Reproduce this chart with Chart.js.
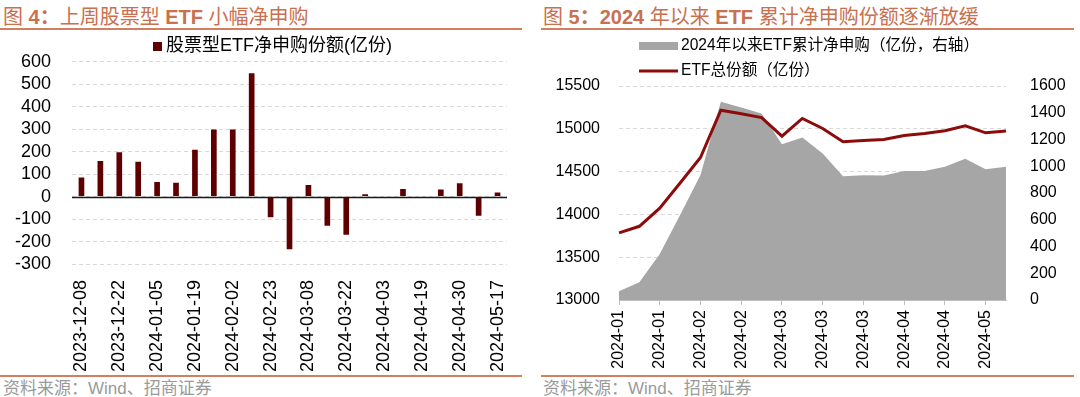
<!DOCTYPE html>
<html>
<head>
<meta charset="utf-8">
<script src="https://cdn.jsdelivr.net/npm/chart.js"></script>
<style>
  body { margin: 0; width: 1080px; height: 397px; background: #fff; position: relative; overflow: hidden;
         font-family: "Liberation Sans", Arial, "Noto Sans CJK SC", sans-serif; }
  .title { position: absolute; top: 4px; font-size: 20px; line-height: 26px; color: #c9704f; white-space: nowrap; }
  .title b { font-weight: bold; }
  .rule { position: absolute; height: 2px; background: #d27e61; }
  .source { position: absolute; top: 378px; font-size: 17px; line-height: 22px; color: #9a9a9a; white-space: nowrap; }
  canvas { position: absolute; }
</style>
</head>
<body>
<div class="title" style="left:3px">图 <b>4：</b>上周股票型 <b>ETF</b> 小幅净申购</div>
<div class="rule" style="left:0;width:522px;top:28px"></div>
<div class="title" style="left:543px">图 <b>5：2024</b> 年以来 <b>ETF</b> 累计净申购份额逐渐放缓</div>
<div class="rule" style="left:541px;width:533px;top:28px"></div>

<canvas id="leftChart" width="530" height="346" style="left:0;top:30px"></canvas>
<canvas id="rightChart" width="540" height="346" style="left:540px;top:30px"></canvas>

<div class="rule" style="left:0;width:522px;top:375px"></div>
<div class="rule" style="left:541px;width:533px;top:375px"></div>
<div class="source" style="left:3px">资料来源：Wind、招商证券</div>
<div class="source" style="left:543px">资料来源：Wind、招商证券</div>

<script>
// left: weekly net subscription of stock ETFs (亿份)
const weekDates = ['2023-12-08', '2023-12-15', '2023-12-22', '2023-12-29', '2024-01-05', '2024-01-12',
  '2024-01-19', '2024-01-26', '2024-02-02', '2024-02-08', '2024-02-23', '2024-03-01', '2024-03-08',
  '2024-03-15', '2024-03-22', '2024-03-29', '2024-04-03', '2024-04-12', '2024-04-19', '2024-04-26',
  '2024-04-30', '2024-05-10', '2024-05-17'];
const netSubscription = [85, 158, 197, 155, 65, 62, 208, 299, 299, 549, -92, -234, 52, -130, -170,
  10, -6, 34, -2, 32, 59, -85, 18];

// right: cumulative net subscription since 2024 (right axis) and total ETF shares
const monthTicks = ['2024-01', '2024-01', '2024-01', '2024-01', '2024-02', '2024-02', '2024-02',
  '2024-03', '2024-03', '2024-03', '2024-03', '2024-03', '2024-03', '2024-04', '2024-04', '2024-04',
  '2024-04', '2024-05', '2024-05', '2024-05'];
const cumSubscription = [65, 132, 343, 636, 935, 1483, 1440, 1395, 1165, 1215, 1095, 925, 932, 930,
  965, 965, 997, 1057, 977, 997];
const totalShares = [13785, 13861, 14072, 14367, 14664, 15217, 15175, 15131, 14914, 15121, 15004,
  14848, 14863, 14875, 14922, 14945, 14977, 15035, 14953, 14975];

const barColor = '#5e0000';
const lineColor = '#8c0c0c';
const areaColor = '#a6a6a6';
const gridColor = '#d9d9d9';

Chart.defaults.font.family = '"Liberation Sans", Arial, "Noto Sans CJK SC", sans-serif';
Chart.defaults.color = '#000';

const plain = v => String(v);

const zeroLine = {
  id: 'zeroLine',
  afterDatasetsDraw(chart) {
    const { ctx, chartArea, scales } = chart;
    const y = Math.round(scales.y.getPixelForValue(0)) + 0.5;
    ctx.save();
    ctx.strokeStyle = '#1a1a1a';
    ctx.lineWidth = 1.3;
    ctx.beginPath();
    ctx.moveTo(chartArea.left, y);
    ctx.lineTo(chartArea.right, y);
    ctx.stroke();
    ctx.restore();
  }
};

const leftLegend = {
  id: 'leftLegend',
  afterDraw(chart) {
    const ctx = chart.ctx;
    const ds = chart.data.datasets[0];
    ctx.save();
    ctx.fillStyle = ds.backgroundColor;
    ctx.fillRect(153, 12, 9, 9);
    ctx.fillStyle = '#000';
    ctx.font = '18px "Liberation Sans", "Noto Sans CJK SC", sans-serif';
    ctx.textBaseline = 'middle';
    ctx.fillText(ds.label, 166, 16);
    ctx.restore();
  }
};

const rightLegend = {
  id: 'rightLegend',
  afterDraw(chart) {
    const ctx = chart.ctx;
    const area = chart.data.datasets.find(d => d.fill);
    const line = chart.data.datasets.find(d => !d.fill);
    ctx.save();
    ctx.font = '15.6px "Liberation Sans", "Noto Sans CJK SC", sans-serif';
    ctx.textBaseline = 'middle';
    ctx.fillStyle = area.backgroundColor;
    ctx.fillRect(99, 12, 39, 8);
    ctx.strokeStyle = line.borderColor;
    ctx.lineWidth = 3;
    ctx.beginPath();
    ctx.moveTo(99, 41);
    ctx.lineTo(138, 41);
    ctx.stroke();
    ctx.fillStyle = '#000';
    ctx.fillText(area.label, 141, 16);
    ctx.fillText(line.label, 141, 41);
    ctx.restore();
  }
};

new Chart(document.getElementById('leftChart'), {
  type: 'bar',
  data: {
    labels: weekDates,
    datasets: [{
      label: '股票型ETF净申购份额(亿份)',
      data: netSubscription,
      backgroundColor: barColor,
      categoryPercentage: 1,
      barPercentage: 0.3
    }]
  },
  options: {
    responsive: false,
    animation: false,
    devicePixelRatio: 1,
    layout: { padding: { top: 29, right: 23, left: 0, bottom: 0 } },
    plugins: { legend: { display: false }, tooltip: { enabled: false } },
    scales: {
      x: {
        grid: { display: false },
        border: { display: false },
        ticks: {
          autoSkip: false,
          minRotation: 90,
          maxRotation: 90,
          padding: 8,
          font: { size: 18 },
          callback: (v, i) => (i % 2 === 0 ? weekDates[i] : '')
        },
        afterFit: s => { s.height = 112; }
      },
      y: {
        min: -300,
        max: 600,
        grid: { color: gridColor, drawTicks: false },
        border: { display: false, dash: [4, 3] },
        ticks: { stepSize: 100, autoSkip: false, padding: 21, font: { size: 18 }, callback: plain },
        afterFit: s => { s.width = 72; }
      }
    }
  },
  plugins: [zeroLine, leftLegend]
});

new Chart(document.getElementById('rightChart'), {
  type: 'line',
  data: {
    labels: monthTicks,
    datasets: [{
      label: 'ETF总份额（亿份）',
      data: totalShares,
      borderColor: lineColor,
      borderWidth: 3,
      pointRadius: 0,
      fill: false,
      yAxisID: 'y',
      order: 1
    }, {
      label: '2024年以来ETF累计净申购（亿份，右轴）',
      data: cumSubscription,
      backgroundColor: areaColor,
      borderWidth: 0,
      pointRadius: 0,
      fill: 'origin',
      yAxisID: 'y1',
      order: 2
    }]
  },
  options: {
    responsive: false,
    animation: false,
    devicePixelRatio: 1,
    layout: { padding: { top: 56, right: 0, left: 0, bottom: 0 } },
    plugins: { legend: { display: false }, tooltip: { enabled: false } },
    scales: {
      x: {
        grid: {
          drawOnChartArea: false,
          tickLength: 5,
          color: c => (c.index % 2 === 0 ? '#bfbfbf' : 'rgba(0,0,0,0)')
        },
        border: { color: '#bfbfbf' },
        ticks: {
          autoSkip: false,
          minRotation: 90,
          maxRotation: 90,
          padding: 5,
          font: { size: 16 },
          callback: (v, i) => (i % 2 === 0 ? monthTicks[i] : '')
        },
        afterFit: s => { s.height = 76; }
      },
      y: {
        position: 'left',
        min: 13000,
        max: 15500,
        grid: {
          drawTicks: false,
          color: c => (c.tick.value === 13000 ? 'rgba(0,0,0,0)' : gridColor)
        },
        border: { display: false, dash: [4, 3] },
        ticks: { stepSize: 500, autoSkip: false, padding: 19, font: { size: 16 }, callback: plain },
        afterFit: s => { s.width = 79; }
      },
      y1: {
        position: 'right',
        min: 0,
        max: 1600,
        grid: { display: false },
        border: { display: false },
        ticks: { stepSize: 200, autoSkip: false, padding: 16, font: { size: 16 }, callback: plain },
        afterFit: s => { s.width = 74; }
      }
    }
  },
  plugins: [rightLegend]
});
</script>
</body>
</html>
